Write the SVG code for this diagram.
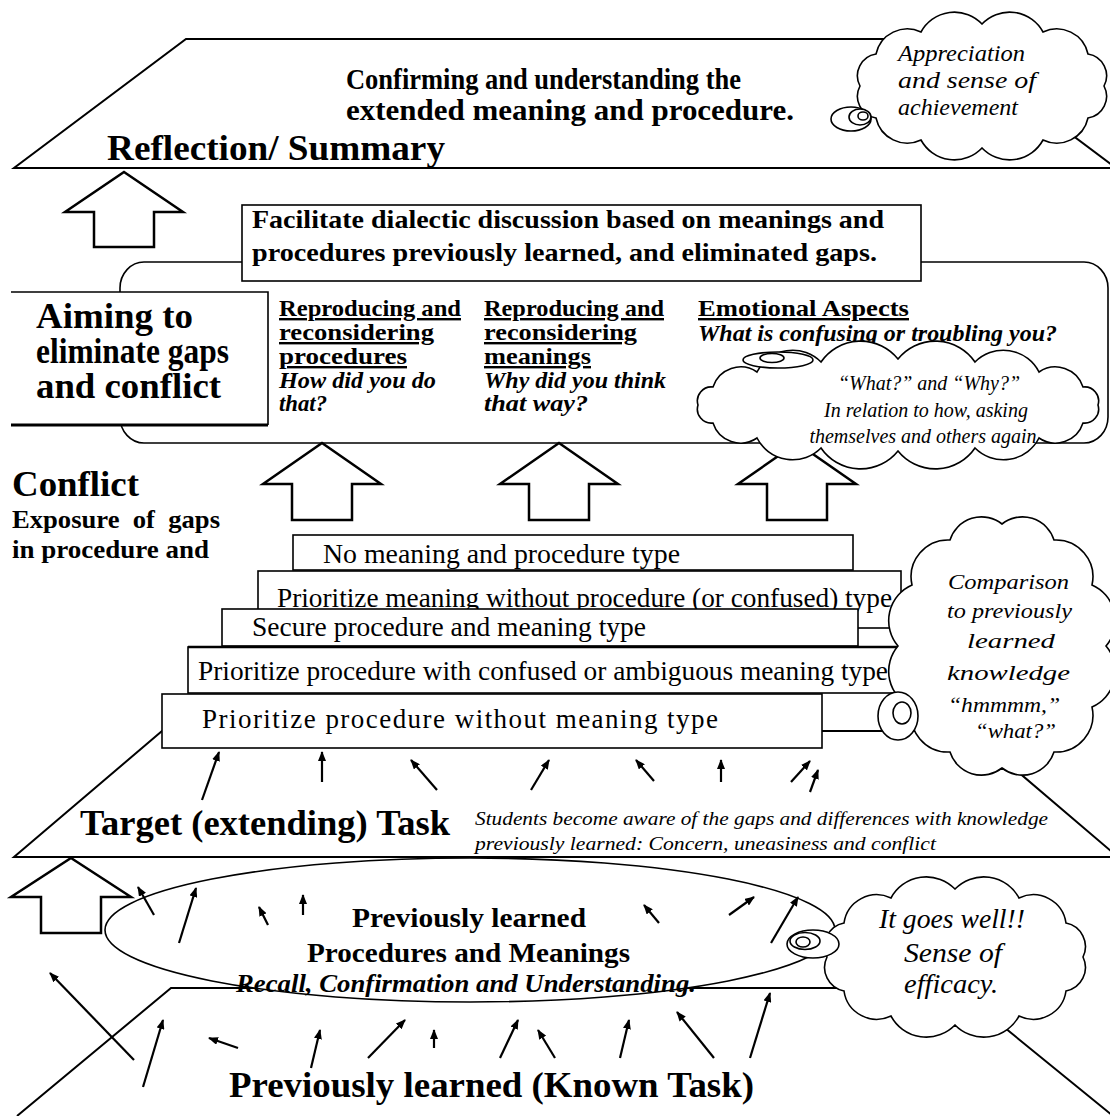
<svg xmlns="http://www.w3.org/2000/svg" width="1110" height="1116" viewBox="0 0 1110 1116">
<style>
.ln{fill:none;stroke:#000;stroke-width:2}
.wf{fill:#fff;stroke:#000;stroke-width:2}
.bx{fill:#fff;stroke:#000;stroke-width:1.6}
.blk{fill:#fff;stroke:#000;stroke-width:2.5;stroke-linejoin:miter}
.cl{fill:#fff;stroke:#000;stroke-width:1.6}
.ar{fill:none;stroke:#000;stroke-width:2.2;marker-end:url(#ah)}
text{fill:#000}
.b{font-weight:bold}
.i{font-style:italic}
.u{text-decoration:underline}
</style>
<defs>
<marker id="ah" viewBox="0 0 10 8" refX="9" refY="4" markerWidth="10" markerHeight="8" markerUnits="userSpaceOnUse" orient="auto"><path d="M0,0 L10,4 L0,8 z" fill="#000"/></marker>
</defs>
<rect width="1110" height="1116" fill="#fff"/>
<g font-family="'Liberation Serif', 'Times New Roman', serif">
<g id="plane-reflection">
<polygon class="wf" points="186,39 944,39 1116,168 14,168"/>
</g>
<g id="plane-target">
<polygon class="wf" points="162,731 970,731 1118,857 14,857"/>
</g>
<g id="plane-known">
<polyline class="ln" points="17,1116 171,988 956,988 1113,1116"/>
</g>

<g id="reflection">
<text class="b" x="346" y="89" font-size="30" textLength="395" lengthAdjust="spacingAndGlyphs">Confirming and understanding the</text>
<text class="b" x="346" y="120" font-size="30" textLength="448" lengthAdjust="spacingAndGlyphs">extended meaning and procedure.</text>
<text class="b" x="107" y="160" font-size="36" textLength="338" lengthAdjust="spacingAndGlyphs">Reflection/ Summary</text>
</g>

<g id="discussion-area">
<rect class="bx" x="120" y="262" width="988" height="181" rx="24" ry="26"/>
</g>
<g id="facilitate">
<rect class="bx" x="242" y="205" width="679" height="76"/>
<text class="b" x="252" y="228" font-size="26" textLength="632" lengthAdjust="spacingAndGlyphs">Facilitate dialectic discussion based on meanings and</text>
<text class="b" x="252" y="261" font-size="26" textLength="625" lengthAdjust="spacingAndGlyphs">procedures previously learned, and eliminated gaps.</text>
</g>
<g id="aiming">
<rect x="11" y="292" width="257" height="133" fill="#fff"/>
<path d="M11,292 H268 V425" fill="none" stroke="#000" stroke-width="1.6"/>
<path d="M11,425 H268" fill="none" stroke="#000" stroke-width="3"/>
<text class="b" x="36" y="328" font-size="36" textLength="157" lengthAdjust="spacingAndGlyphs">Aiming to</text>
<text class="b" x="36" y="363" font-size="36" textLength="193" lengthAdjust="spacingAndGlyphs">eliminate gaps</text>
<text class="b" x="36" y="398" font-size="36" textLength="185" lengthAdjust="spacingAndGlyphs">and conflict</text>
</g>
<g id="col-procedures">
<text class="b u" x="279" y="316" font-size="24" textLength="182" lengthAdjust="spacingAndGlyphs">Reproducing and</text>
<text class="b u" x="279" y="340" font-size="24" textLength="155" lengthAdjust="spacingAndGlyphs">reconsidering</text>
<text class="b u" x="279" y="364" font-size="24" textLength="128" lengthAdjust="spacingAndGlyphs">procedures</text>
<text class="b i" x="279" y="388" font-size="24" textLength="157" lengthAdjust="spacingAndGlyphs">How did you do</text>
<text class="b i" x="279" y="411" font-size="24" textLength="48" lengthAdjust="spacingAndGlyphs">that?</text>
</g>
<g id="col-meanings">
<text class="b u" x="484" y="316" font-size="24" textLength="180" lengthAdjust="spacingAndGlyphs">Reproducing and</text>
<text class="b u" x="484" y="340" font-size="24" textLength="153" lengthAdjust="spacingAndGlyphs">reconsidering</text>
<text class="b u" x="484" y="364" font-size="24" textLength="107" lengthAdjust="spacingAndGlyphs">meanings</text>
<text class="b i" x="484" y="388" font-size="24" textLength="182" lengthAdjust="spacingAndGlyphs">Why did you think</text>
<text class="b i" x="484" y="411" font-size="24" textLength="104" lengthAdjust="spacingAndGlyphs">that way?</text>
</g>
<g id="col-emotional">
<text class="b u" x="698" y="316" font-size="24" textLength="211" lengthAdjust="spacingAndGlyphs">Emotional Aspects</text>
<text class="b i" x="698" y="341" font-size="24" textLength="359" lengthAdjust="spacingAndGlyphs">What is confusing or troubling you?</text>
</g>

<g id="conflict">
<text class="b" x="12" y="496" font-size="36" textLength="127" lengthAdjust="spacingAndGlyphs">Conflict</text>
<text class="b" x="12" y="528" font-size="25" textLength="208" lengthAdjust="spacingAndGlyphs" xml:space="preserve">Exposure  of  gaps</text>
<text class="b" x="12" y="558" font-size="25" textLength="197" lengthAdjust="spacingAndGlyphs">in procedure and</text>
</g>

<g id="step-none">
<rect class="bx" x="293" y="535" width="560" height="35"/>
<text x="323" y="563" font-size="27" textLength="357" lengthAdjust="spacingAndGlyphs">No meaning and procedure type</text>
</g>
<g id="step-meaning">
<rect class="bx" x="258" y="571" width="643" height="57"/>
<text x="277" y="607" font-size="27" textLength="615" lengthAdjust="spacingAndGlyphs">Prioritize meaning without procedure (or confused) type</text>
</g>
<g id="step-secure">
<rect class="bx" x="222" y="609" width="636" height="37"/>
<text x="252" y="636" font-size="27" textLength="394" lengthAdjust="spacingAndGlyphs">Secure procedure and meaning type</text>
</g>
<g id="step-confused">
<rect class="bx" x="188" y="647" width="720" height="46"/>
<line x1="188" y1="647" x2="908" y2="647" stroke="#000" stroke-width="2.6"/>
<text x="198" y="680" font-size="27" textLength="690" lengthAdjust="spacingAndGlyphs">Prioritize procedure with confused or ambiguous meaning type</text>
</g>
<g id="step-procedure">
<rect class="bx" x="162" y="694" width="660" height="54"/>
<text x="202" y="728" font-size="27" textLength="516" lengthAdjust="spacing">Prioritize procedure without meaning type</text>
</g>

<g id="target">
<text class="b" x="80" y="835" font-size="36" textLength="370" lengthAdjust="spacingAndGlyphs">Target (extending) Task</text>
<text class="i" x="475" y="825" font-size="18" textLength="573" lengthAdjust="spacingAndGlyphs">Students become aware of the gaps and differences with knowledge</text>
<text class="i" x="475" y="850" font-size="18" textLength="461" lengthAdjust="spacingAndGlyphs">previously learned: Concern, uneasiness and conflict</text>
</g>

<g id="prior-knowledge">
<ellipse cx="470" cy="930" rx="365" ry="72" fill="#fff" stroke="#000" stroke-width="1.6"/>
<text class="b" x="352" y="927" font-size="28" textLength="234" lengthAdjust="spacingAndGlyphs">Previously learned</text>
<text class="b" x="307" y="962" font-size="28" textLength="323" lengthAdjust="spacingAndGlyphs">Procedures and Meanings</text>
<text class="b i" x="236" y="992" font-size="26" textLength="460" lengthAdjust="spacingAndGlyphs">Recall, Confirmation and Understanding.</text>
</g>

<g id="known">
<text class="b" x="229" y="1097" font-size="36" textLength="525" lengthAdjust="spacingAndGlyphs">Previously learned (Known Task)</text>
</g>

<g id="connectors">
<polygon class="blk" points="124,172 183,212 154,212 154,247 94,247 94,212 65,212"/>
<polygon class="blk" points="322,443 381,484 352,484 352,520 292,520 292,484 263,484"/>
<polygon class="blk" points="559,443 618,484 589,484 589,520 529,520 529,484 500,484"/>
<polygon class="blk" points="797,443 856,484 827,484 827,520 767,520 767,484 738,484"/>
<polygon class="blk" points="71,858 131,897 101,897 101,933 41,933 41,897 11,897"/>
<line class="ar" x1="202" y1="800" x2="219" y2="752"/>
<line class="ar" x1="322" y1="782" x2="322" y2="752"/>
<line class="ar" x1="437" y1="790" x2="411" y2="760"/>
<line class="ar" x1="531" y1="790" x2="549" y2="760"/>
<line class="ar" x1="654" y1="781" x2="636" y2="760"/>
<line class="ar" x1="721" y1="782" x2="721" y2="760"/>
<line class="ar" x1="791" y1="782" x2="810" y2="761"/>
<line class="ar" x1="810" y1="792" x2="818" y2="770"/>
<line class="ar" x1="154" y1="915" x2="138" y2="887"/>
<line class="ar" x1="179" y1="943" x2="196" y2="888"/>
<line class="ar" x1="268" y1="925" x2="259" y2="907"/>
<line class="ar" x1="303" y1="915" x2="303" y2="895"/>
<line class="ar" x1="659" y1="923" x2="644" y2="905"/>
<line class="ar" x1="729" y1="915" x2="754" y2="897"/>
<line class="ar" x1="771" y1="943" x2="798" y2="897"/>
<line class="ar" x1="134" y1="1060" x2="50" y2="973"/>
<line class="ar" x1="143" y1="1087" x2="163" y2="1020"/>
<line class="ar" x1="238" y1="1048" x2="209" y2="1038"/>
<line class="ar" x1="311" y1="1068" x2="320" y2="1030"/>
<line class="ar" x1="368" y1="1058" x2="405" y2="1020"/>
<line class="ar" x1="434" y1="1048" x2="434" y2="1030"/>
<line class="ar" x1="500" y1="1058" x2="518" y2="1020"/>
<line class="ar" x1="555" y1="1058" x2="538" y2="1030"/>
<line class="ar" x1="620" y1="1058" x2="629" y2="1020"/>
<line class="ar" x1="714" y1="1058" x2="677" y2="1012"/>
<line class="ar" x1="750" y1="1058" x2="770" y2="993"/>
</g>

<g id="cloud-appreciation">
<path class="cl" d="M860,86 A22,22 0 0 1 876,54 A32,32 0 0 1 921,32 A38,38 0 0 1 982,24 A38,38 0 0 1 1043,32 A32,32 0 0 1 1088,54 A22,22 0 0 1 1104,86 A22,22 0 0 1 1088,118 A32,32 0 0 1 1043,140 A38,38 0 0 1 982,148 A38,38 0 0 1 921,140 A32,32 0 0 1 876,118 A22,22 0 0 1 860,86 Z"/>
<ellipse class="cl" cx="851" cy="119" rx="20" ry="12"/>
<ellipse class="cl" cx="860" cy="117" rx="11" ry="8"/>
<ellipse class="cl" cx="863" cy="116" rx="5" ry="4"/>
<text class="i" x="898" y="61" font-size="23" textLength="127" lengthAdjust="spacingAndGlyphs">Appreciation</text>
<text class="i" x="898" y="88" font-size="23" textLength="138" lengthAdjust="spacingAndGlyphs">and sense of</text>
<text class="i" x="898" y="115" font-size="23" textLength="120" lengthAdjust="spacingAndGlyphs">achievement</text>
</g>

<g id="cloud-what-why">
<path class="cl" d="M698,405 A14,14 0 0 1 713,387 A29,29 0 0 1 757,372 A40,40 0 0 1 821,362 A48,48 0 0 1 898,359 A48,48 0 0 1 975,362 A40,40 0 0 1 1039,372 A29,29 0 0 1 1083,387 A14,14 0 0 1 1098,405 A14,14 0 0 1 1083,423 A29,29 0 0 1 1039,438 A40,40 0 0 1 975,448 A48,48 0 0 1 898,451 A48,48 0 0 1 821,448 A40,40 0 0 1 757,438 A29,29 0 0 1 713,423 A14,14 0 0 1 698,405 Z"/>
<ellipse class="cl" cx="778" cy="360" rx="35" ry="8"/>
<ellipse class="cl" cx="772" cy="358" rx="12" ry="4.5"/>
<text class="i" x="929" y="390" font-size="20" text-anchor="middle">“What?” and “Why?”</text>
<text class="i" x="926" y="417" font-size="20" text-anchor="middle">In relation to how, asking</text>
<text class="i" x="923" y="443" font-size="20" text-anchor="middle">themselves and others again</text>
</g>

<g id="cloud-comparison">
<path class="cl" d="M898,646 A39,39 0 0 1 912,585 A37,37 0 0 1 950,540 A33,33 0 0 1 1002,524 A33,33 0 0 1 1054,540 A37,37 0 0 1 1092,585 A39,39 0 0 1 1106,646 A39,39 0 0 1 1092,707 A37,37 0 0 1 1054,752 A33,33 0 0 1 1002,768 A33,33 0 0 1 950,752 A37,37 0 0 1 912,707 A39,39 0 0 1 898,646 Z"/>
<ellipse class="cl" cx="898" cy="716" rx="20" ry="24"/>
<ellipse class="cl" cx="902" cy="713" rx="9" ry="11"/>
<text class="i" x="948" y="589" font-size="22" textLength="121" lengthAdjust="spacingAndGlyphs">Comparison</text>
<text class="i" x="947" y="618" font-size="22" textLength="125" lengthAdjust="spacingAndGlyphs">to previously</text>
<text class="i" x="967" y="648" font-size="22" textLength="88" lengthAdjust="spacingAndGlyphs">learned</text>
<text class="i" x="947" y="680" font-size="22" textLength="123" lengthAdjust="spacingAndGlyphs">knowledge</text>
<text class="i" x="948" y="712" font-size="22" textLength="112" lengthAdjust="spacingAndGlyphs">“hmmmm,”</text>
<text class="i" x="975" y="738" font-size="22" textLength="81" lengthAdjust="spacingAndGlyphs">“what?”</text>
</g>

<g id="cloud-efficacy">
<path class="cl" d="M827,957 A24,24 0 0 1 844,923 A33,33 0 0 1 891,898 A40,40 0 0 1 955,889 A40,40 0 0 1 1019,898 A33,33 0 0 1 1066,923 A24,24 0 0 1 1083,957 A24,24 0 0 1 1066,991 A33,33 0 0 1 1019,1016 A40,40 0 0 1 955,1025 A40,40 0 0 1 891,1016 A33,33 0 0 1 844,991 A24,24 0 0 1 827,957 Z"/>
<ellipse class="cl" cx="813" cy="944" rx="26" ry="14"/>
<ellipse class="cl" cx="805" cy="941" rx="15" ry="8.5"/>
<ellipse class="cl" cx="803" cy="942" rx="7" ry="5"/>
<text class="i" x="879" y="928" font-size="28" textLength="146" lengthAdjust="spacingAndGlyphs">It goes well!!</text>
<text class="i" x="904" y="962" font-size="28" textLength="98" lengthAdjust="spacingAndGlyphs">Sense of</text>
<text class="i" x="904" y="993" font-size="28" textLength="94" lengthAdjust="spacingAndGlyphs">efficacy.</text>
</g>
</g>
</svg>
